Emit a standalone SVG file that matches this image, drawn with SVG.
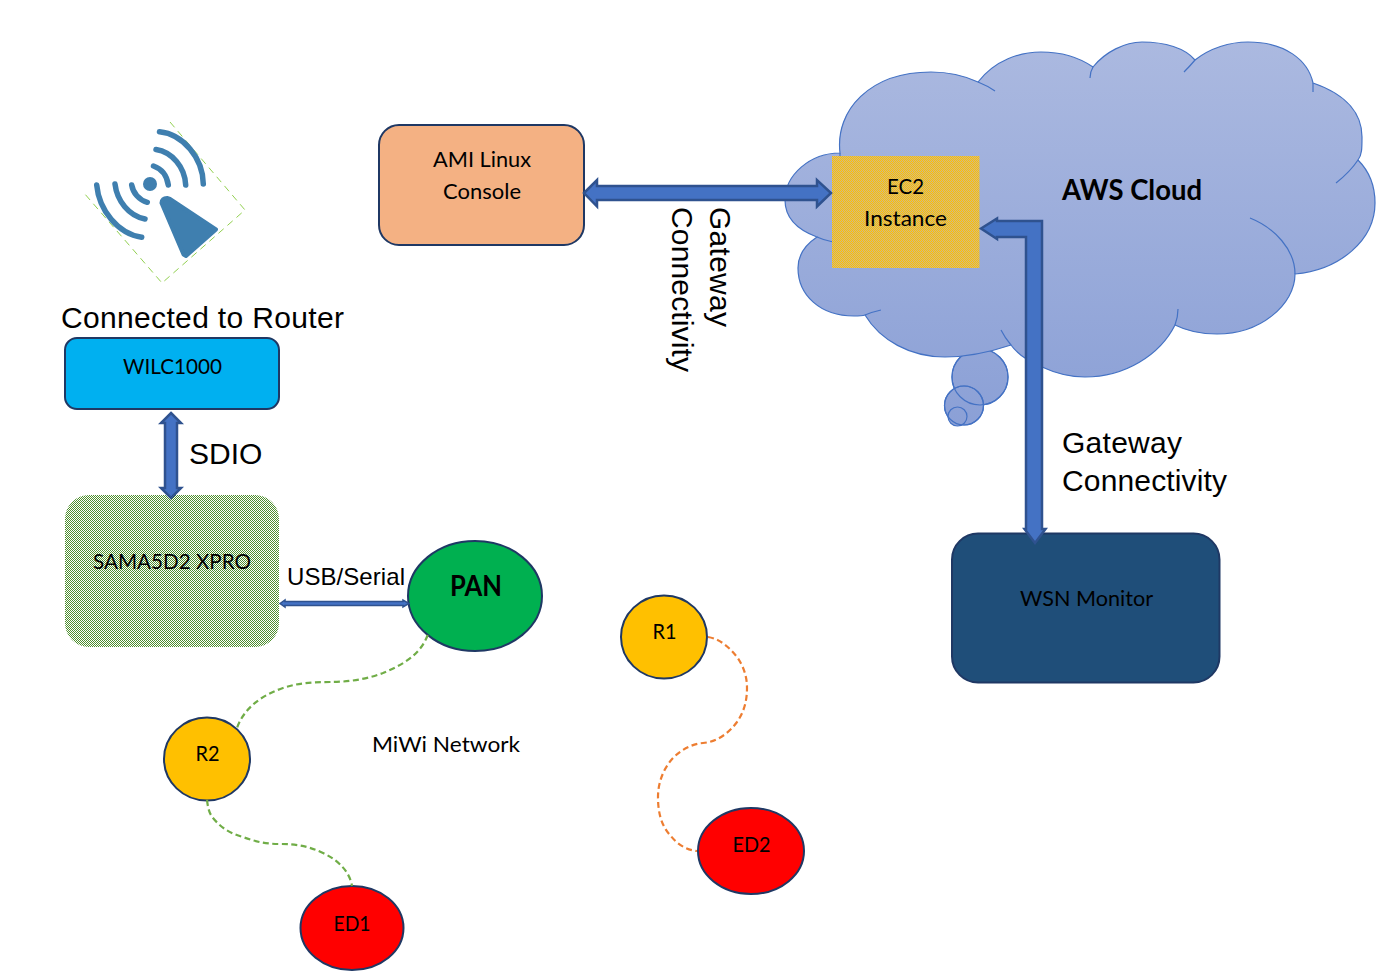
<svg xmlns="http://www.w3.org/2000/svg" width="1380" height="974" viewBox="0 0 1380 974">
<style>
.c{font-family:Lato,"Liberation Sans",sans-serif;font-size:22px;fill:#000;text-anchor:middle}
.a{font-family:"Liberation Sans",Arial,sans-serif;font-size:30px;fill:#000}
.b{font-weight:700}
.sh{fill:#4472C4;stroke:#2F528F;stroke-width:2.5;stroke-linejoin:miter}
.n{stroke:#1F3864;stroke-width:2}
.cl{fill:url(#cg);stroke:#4472C4;stroke-width:1.2}
.in{fill:none;stroke:#4472C4;stroke-width:1.2}
.w{fill:none;stroke:#3F7FAF;stroke-width:5.5;stroke-linecap:round}
.d{fill:none;stroke-width:2.2;stroke-dasharray:6 3.5}
</style>
<defs>
<linearGradient id="cg" gradientUnits="userSpaceOnUse" x1="0" y1="42" x2="0" y2="426">
<stop offset="0" stop-color="#ABB9E0"/><stop offset="1" stop-color="#8BA0D6"/>
</linearGradient>
<pattern id="pg" width="2" height="2" patternUnits="userSpaceOnUse">
<rect width="2" height="2" fill="#fff"/><rect width="1" height="1" fill="#4F8F2F"/><rect x="1" y="1" width="1" height="1" fill="#4F8F2F"/>
</pattern>
<pattern id="py" width="2" height="2" patternUnits="userSpaceOnUse">
<rect width="2" height="2" fill="#CDB98A"/><rect width="1" height="1" fill="#FFC000"/><rect x="1" y="1" width="1" height="1" fill="#FFC000"/>
</pattern>
</defs>

<g id="icon">
<path d="M170,122 L245,210 L162,283 L84,193" fill="none" stroke="#92D050" stroke-width="1" stroke-dasharray="7 5"/>
<circle cx="150" cy="184" r="7" fill="#3F7FAF"/>
<path class="w" d="M153.500,166 C162,169 167,176 168.300,185"/>
<path class="w" d="M156,149.500 C172,152 185,167 185.700,185"/>
<path class="w" d="M159.500,131.700 C183,134 203,158 203.300,184"/>
<path class="w" d="M131.700,185 C133,193 139,200 147.300,202.300"/>
<path class="w" d="M115,184 C117,201 129,216 145,219"/>
<path class="w" d="M96.700,185 C99,210 118,234 141.700,237.300"/>
<path d="M161.500,203 Q162,198 167,198 L170,199 L216,229.500 L186,256 L183.500,254.500 Z" fill="#3F7FAF" stroke="#3F7FAF" stroke-width="4" stroke-linejoin="round"/>
</g>

<g id="cloud">
<circle class="cl" cx="980" cy="377" r="28"/>
<circle class="cl" cx="964" cy="405.500" r="19.500"/>
<circle class="cl" cx="957.500" cy="416.500" r="9.500"/>
<circle class="in" cx="980" cy="377" r="28"/>
<circle class="in" cx="964" cy="405.500" r="19.500"/>
<path class="cl" d="M840,153 C835,110 870,72 931,72 C950,72 965,76 978,82 C995,60 1020,52 1041,52 C1062,52 1080,58 1093,67 C1105,52 1125,42 1142,42 C1165,42 1185,48 1195,60 C1210,48 1230,42 1248,42 C1285,42 1308,60 1313,83 C1348,95 1362,115 1362,137 C1362,148 1362,155 1358,160 C1368,170 1375,185 1375,203 C1375,240 1340,270 1295,274 C1295,305 1260,334 1217,334 C1200,334 1187,331 1175,325 C1160,355 1125,377 1085,377 C1068,377 1055,373 1042,367 C1030,362 1018,355 1011,345 C990,352 970,357 945,357 C910,357 880,340 865,315 C862,316 858,316 854,316 C820,316 798,295 798,268 C798,255 805,245 817,237 C798,230 785,218 785,200 C785,175 810,153 840,153 Z"/>
<path class="in" d="M978,82 Q988,86 995,91 M1093,67 Q1090,72 1090,78 M1195,60 Q1190,66 1184,72 M1313,83 L1313,92 M1358,160 Q1350,172 1336,183 M1250,218 C1275,228 1295,250 1295,274 M1175,325 Q1178,317 1178,309 M1011,345 Q1005,338 1001,330 M865,315 Q872,312 881,310 M817,237 Q830,243 848,243 M840,153 L840,160"/>
<text class="a b" style="font-family:Lato,'Liberation Sans',sans-serif;font-size:29px" x="1062" y="200" textLength="140" lengthAdjust="spacingAndGlyphs">AWS Cloud</text>
</g>

<g id="ami">
<rect class="n" x="379" y="125" width="205" height="120" rx="20" fill="#F4B183"/>
<text class="c" x="482" y="167" textLength="98" lengthAdjust="spacingAndGlyphs">AMI Linux</text>
<text class="c" x="482" y="199" textLength="78" lengthAdjust="spacingAndGlyphs">Console</text>
</g>

<g id="ec2">
<rect x="832" y="156" width="147.500" height="112" fill="url(#py)"/>
<text class="c" x="905.500" y="194" textLength="37" lengthAdjust="spacingAndGlyphs">EC2</text>
<text class="c" x="905.500" y="226" textLength="83" lengthAdjust="spacingAndGlyphs">Instance</text>
</g>

<g id="wilc">
<rect class="n" x="65" y="338" width="214" height="71" rx="12" fill="#00B0F0"/>
<text class="c" x="172.500" y="374" textLength="99" lengthAdjust="spacingAndGlyphs">WILC1000</text>
</g>

<g id="sama">
<rect x="65" y="495" width="214" height="152" rx="24" fill="url(#pg)"/>
<text class="c" x="172" y="569" textLength="158" lengthAdjust="spacingAndGlyphs">SAMA5D2 XPRO</text>
</g>

<g id="wsn">
<rect class="n" x="952" y="533.500" width="267.500" height="149" rx="26" fill="#1F4E79"/>
<text class="c" x="1086.500" y="606" textLength="133" lengthAdjust="spacingAndGlyphs">WSN Monitor</text>
</g>

<g id="pan">
<ellipse class="n" cx="475" cy="596" rx="67" ry="55" fill="#00B050"/>
<text class="c b" style="font-size:28px" x="476" y="596" textLength="52" lengthAdjust="spacingAndGlyphs">PAN</text>
</g>
<g id="r1">
<ellipse class="n" cx="664" cy="637" rx="43" ry="41.500" fill="#FFC000"/>
<text class="c" x="664.500" y="639" textLength="24" lengthAdjust="spacingAndGlyphs">R1</text>
</g>
<g id="r2">
<ellipse class="n" cx="207" cy="759" rx="43" ry="41.500" fill="#FFC000"/>
<text class="c" x="207.500" y="761" textLength="24" lengthAdjust="spacingAndGlyphs">R2</text>
</g>
<g id="ed1">
<ellipse class="n" cx="352" cy="928" rx="51.500" ry="42" fill="#FF0000"/>
<text class="c" x="352" y="931" textLength="37" lengthAdjust="spacingAndGlyphs">ED1</text>
</g>
<g id="ed2">
<ellipse class="n" cx="751" cy="851" rx="53" ry="43" fill="#FF0000"/>
<text class="c" x="751.500" y="852" textLength="38" lengthAdjust="spacingAndGlyphs">ED2</text>
</g>

<g id="connectors">
<path class="sh" d="M584,193 L597,180 L597,186 L817,186 L817,180 L831,193 L817,206.500 L817,200 L597,200 L597,206.500 Z"/>
<path class="sh" d="M981,228.500 L997,218.500 L997,221 L1042,221 L1042,529 L1045.500,529 L1035,543 L1024.500,529 L1026,529 L1026,237 L997,237 L997,239 Z"/>
<path class="sh" d="M171,413 L181,423 L177,423 L177,488 L181,488 L171,498 L161,488 L165,488 L165,423 L161,423 Z"/>
<path class="sh" style="stroke-width:1.500" d="M280,603.500 L285,600 L285,601.500 L403,601.500 L403,600 L409,603.500 L403,607 L403,605.500 L285,605.500 L285,607 Z"/>
<path class="d" stroke="#70AD47" d="M427.700,635 C420,656 400,666 383,673 C365,680 345,682 330,682 C312,682 298,683 283,688 C262,695 244,708 237,728"/>
<path class="d" stroke="#70AD47" d="M207,800 C208,808 209,813 213,818 C222,829 232,834 243,837 C256,842 267,844 280,844 C296,844 308,846 323,853 C340,861 350,873 352,886"/>
<path class="d" stroke="#ED7D31" d="M708,637 C720,639 729,647 737,657 C744,667 747,677 747,688 C747,701 744,712 737,722 C729,733 717,742 703,743 C692,744 682,749 673,758 C663,769 658,783 658,797 C658,812 661,825 670,835 C677,844 686,850 697,851"/>
</g>

<g id="labels">
<text class="a" x="61" y="328" textLength="283">Connected to Router</text>
<text class="a" x="189" y="464">SDIO</text>
<text class="a" style="font-size:24px" x="287" y="585" textLength="118">USB/Serial</text>
<text class="a" x="1062" y="453" textLength="120">Gateway</text>
<text class="a" x="1062" y="491" textLength="165">Connectivity</text>
<text class="a" transform="translate(710,207) rotate(90)" textLength="120">Gateway</text>
<text class="a" transform="translate(672,207) rotate(90)" textLength="165">Connectivity</text>
<text class="c" x="446" y="752" textLength="148" lengthAdjust="spacingAndGlyphs">MiWi Network</text>
</g>
</svg>
